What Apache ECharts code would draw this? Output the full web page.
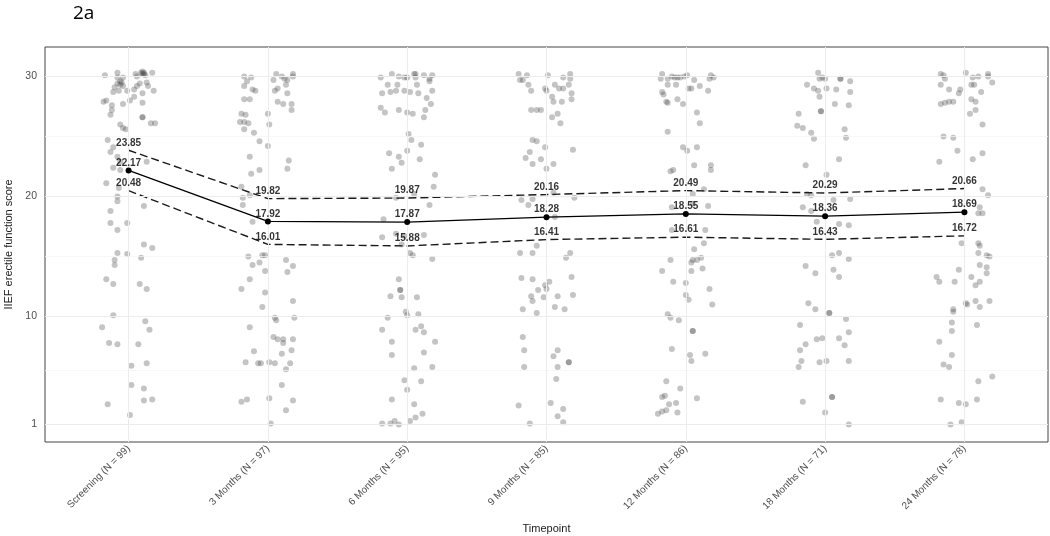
<!DOCTYPE html>
<html>
<head>
<meta charset="utf-8">
<script src="https://cdn.jsdelivr.net/npm/echarts@6/dist/echarts.min.js"></script>
<style>html,body{margin:0;padding:0;background:#fff}#c{width:1050px;height:536px}</style>
</head>
<body>
<div id="c"></div>
<script>
const categories = ["Screening (N = 99)","3 Months (N = 97)","6 Months (N = 95)","9 Months (N = 85)","12 Months (N = 86)","18 Months (N = 71)","24 Months (N = 78)"];
const yTicks = [1, 10, 20, 30];
const yMinorTicks = [5.5, 15, 25];
const meanValues = [22.17, 17.92, 17.87, 18.28, 18.55, 18.36, 18.69];
const upperValues = [23.85, 19.82, 19.87, 20.16, 20.49, 20.29, 20.66];
const lowerValues = [20.48, 16.01, 15.88, 16.41, 16.61, 16.43, 16.72];

// jittered individual scores: [horizontal jitter offset, score]
const ptsScreening = [[-0.17,30.1],[-0.08,30.3],[-0.08,29.9],[-0.04,29.9],[-0.06,29.6],[0.05,30.2],[0.06,30.0],[0.10,30.2],[0.11,30.3],[0.12,30.1],[0.17,30.3],[0.09,30.3],[0.10,30.4],[0.11,30.2],[-0.05,29.5],
[-0.08,29.4],[-0.06,29.3],[-0.10,29.1],[-0.04,29.2],[-0.11,28.7],[-0.07,28.8],[-0.01,28.8],[0.04,28.9],[0.06,29.2],[0.08,29.4],[0.13,29.5],[0.14,29.2],[0.18,28.8],[0.10,28.6],
[-0.18,27.9],[-0.16,28.0],[-0.12,27.6],[-0.04,27.7],[0.01,28.0],[0.04,28.3],[0.10,27.8],[-0.12,27.2],[-0.13,26.8],[0.10,26.6],[0.10,26.6],[0.16,26.1],[0.19,26.1],[-0.06,26.0],[-0.04,25.7],[-0.02,25.6],
[-0.15,24.7],[-0.11,24.1],[-0.13,23.7],[-0.08,23.3],[-0.06,22.9],[0.13,22.9],[-0.11,22.4],[-0.06,22.2],[-0.16,21.1],[-0.07,20.7],[-0.08,20.0],[-0.08,19.6],[0.11,19.2],[-0.13,18.8],[-0.13,17.8],[-0.01,17.8],[-0.08,17.2],
[0.11,16.0],[0.17,15.7],[-0.08,15.3],[-0.01,15.2],[0.09,14.9],[-0.10,14.7],[-0.10,14.3],[-0.16,13.1],[-0.11,12.7],[0.08,12.7],[0.13,12.3],[-0.11,10.1],[-0.19,9.1],[0.12,9.6],[0.15,8.9],
[-0.14,7.8],[-0.08,7.7],[0.07,7.7],[0.13,6.1],[0.02,5.9],[0.02,4.3],[0.11,4.0],[0.11,3.0],[0.17,3.1],[-0.15,2.7],[0.01,1.8]];
const pts3m = [[-0.17,30.0],[-0.12,29.9],[-0.15,29.6],[-0.17,29.2],[-0.11,28.9],[-0.09,28.8],[0.06,30.2],[0.10,30.0],[0.04,29.7],[0.12,29.8],[0.14,29.7],[0.18,30.2],[0.18,30.0],[0.13,29.3],[0.07,29.0],[0.05,28.8],[0.14,28.6],
[-0.17,28.1],[-0.13,28.1],[0.07,27.9],[0.11,27.7],[0.17,27.7],[0.17,27.2],[-0.19,26.9],[-0.16,26.8],[-0.20,26.2],[-0.17,26.2],[-0.14,26.1],[-0.17,25.6],[0.00,26.9],[0.01,26.0],[-0.10,25.3],[-0.06,24.6],[0.00,24.2],
[-0.13,23.3],[0.15,23.0],[0.14,22.3],[-0.12,21.9],[-0.06,22.2],[-0.19,20.8],[-0.18,19.9],[-0.13,20.1],[-0.18,19.3],[-0.11,17.9],
[-0.14,15.0],[-0.02,15.1],[-0.04,15.1],[-0.11,14.3],[-0.06,14.5],[-0.02,13.8],[0.13,14.7],[0.18,14.2],[0.14,13.7],[-0.13,13.1],[-0.19,12.3],[-0.02,12.0],[-0.04,10.8],[0.18,11.3],
[0.05,9.9],[0.06,9.7],[0.19,9.9],[-0.13,9.1],[0.04,8.3],[0.07,8.1],[0.11,8.1],[0.11,7.8],[0.18,8.1],[-0.10,7.1],[0.10,6.9],[0.17,7.2],[-0.16,6.2],[-0.07,6.1],[-0.05,6.1],[0.01,6.2],[0.05,6.1],[0.16,6.1],[0.13,5.6],
[0.10,4.3],[-0.19,2.9],[-0.15,3.1],[0.01,3.2],[0.18,3.0],[0.13,2.2],[0.02,1.1]];
const pts6m = [[-0.19,29.9],[-0.11,30.2],[-0.06,30.0],[-0.02,29.9],[0.00,29.9],[0.05,30.2],[0.06,30.2],[0.06,29.9],[0.12,30.1],[0.16,29.8],[0.18,30.1],[0.16,29.6],[-0.14,29.3],[-0.07,29.3],[0.07,29.3],
[-0.18,28.6],[-0.12,28.7],[-0.08,28.8],[-0.02,28.8],[0.02,28.7],[0.08,28.6],[0.18,28.8],[0.14,28.2],[0.17,27.7],[-0.19,27.4],[-0.16,27.0],[-0.06,27.2],[0.00,27.0],[0.04,26.9],[0.13,27.2],[0.12,26.6],
[0.01,25.2],[0.03,24.7],[0.10,24.3],[-0.13,23.6],[-0.06,23.3],[0.00,23.8],[-0.04,22.8],[0.09,23.1],[-0.11,22.3],[0.20,21.8],[0.19,20.8],[-0.08,19.9],[0.05,20.2],[0.16,19.3],[-0.17,18.1],
[-0.18,16.6],[-0.08,16.9],[-0.02,16.7],[0.12,16.8],[-0.04,16.0],[0.02,15.3],[0.04,15.1],[0.18,14.8],[-0.06,13.1],[-0.05,12.2],[-0.05,12.2],[-0.12,11.7],[-0.04,11.6],[0.07,11.6],
[-0.01,10.4],[0.00,10.1],[0.08,10.2],[-0.14,9.9],[-0.18,8.9],[0.06,8.9],[0.10,9.2],[0.12,8.7],[-0.11,7.9],[0.20,7.9],[-0.11,6.8],[0.12,7.0],[0.05,5.7],[0.18,5.8],
[-0.02,4.7],[0.10,4.6],[0.00,3.9],[-0.11,3.1],[0.05,2.7],[0.11,1.9],[0.06,1.6],[0.02,1.3],[-0.18,1.1],[-0.12,1.1],[-0.09,1.3],[-0.06,1.0]];
const pts9m = [[-0.20,30.2],[-0.14,30.1],[-0.19,29.7],[-0.17,29.7],[-0.13,29.3],[-0.11,28.8],[0.01,30.1],[0.12,29.9],[0.17,30.2],[0.17,29.8],[0.06,29.3],[0.09,29.0],[0.12,29.0],[0.16,29.3],[-0.01,29.0],[0.00,28.8],[0.18,28.6],
[0.04,28.3],[0.05,27.9],[0.11,27.9],[0.18,28.1],[-0.11,27.2],[-0.07,27.2],[-0.04,27.2],[0.08,26.9],[0.04,26.6],[0.10,26.1],
[-0.10,24.7],[-0.07,24.6],[-0.01,24.1],[0.19,23.9],[-0.12,23.7],[-0.15,23.2],[-0.04,23.1],[-0.10,22.7],[0.05,22.7],[0.00,22.3],[-0.18,19.7],[-0.13,19.3],[-0.10,19.8],[0.05,20.3],[0.20,19.9],[0.06,18.3],
[-0.07,15.9],[-0.19,15.3],[-0.10,15.3],[0.17,15.3],[0.14,14.9],[-0.18,13.2],[-0.10,13.1],[0.18,13.3],[0.02,12.9],[-0.01,12.6],[-0.06,12.2],[0.00,12.3],[-0.11,11.7],[-0.02,11.6],[0.08,11.7],[0.19,11.8],[-0.10,11.3],
[-0.17,10.6],[-0.07,10.3],[0.06,10.8],[0.13,10.6],[-0.17,8.3],[-0.16,7.2],[0.08,7.2],[0.05,6.7],[0.16,6.2],[0.16,6.2],[-0.16,5.8],[0.08,5.8],[0.07,4.8],
[-0.20,2.6],[0.03,2.8],[0.12,2.3],[0.08,1.7],[0.12,1.2],[-0.12,1.1]];
const pts12m = [[-0.17,30.2],[-0.18,29.8],[-0.13,29.8],[-0.10,30.0],[-0.08,29.9],[-0.06,29.9],[-0.04,29.9],[-0.01,30.0],[0.01,30.1],[0.06,29.7],[0.17,29.8],[0.18,30.1],[0.20,29.9],
[-0.13,29.3],[-0.07,29.3],[0.02,29.0],[0.04,29.0],[0.10,29.2],[0.16,28.8],[-0.17,28.7],[-0.16,28.5],[-0.14,27.9],[-0.13,27.8],[-0.06,28.1],[-0.02,27.7],[0.08,27.0],[0.10,26.1],[-0.13,25.4],
[-0.02,24.1],[0.01,23.8],[0.08,24.1],[-0.11,22.1],[-0.09,22.2],[0.06,22.6],[0.18,22.6],[0.18,22.2],[0.13,20.6],[0.05,20.2],[0.16,19.2],[-0.10,19.1],[0.05,19.4],
[-0.10,17.2],[0.14,17.2],[0.13,16.1],[0.06,15.6],[-0.11,14.7],[0.05,14.7],[0.04,14.5],[0.08,14.7],[0.11,14.9],[0.12,14.0],[-0.17,13.8],[0.04,13.8],[-0.09,12.9],[0.00,12.8],[0.17,12.3],[0.00,11.8],[0.02,11.4],[0.19,11.0],
[-0.13,10.2],[-0.11,9.9],[-0.05,9.7],[0.05,8.8],[0.05,8.8],[-0.10,7.3],[0.03,6.8],[0.04,6.3],[0.14,6.9],
[-0.14,4.6],[-0.04,4.0],[-0.17,3.3],[-0.15,3.4],[0.08,3.2],[-0.12,2.7],[-0.07,2.8],[-0.20,1.9],[-0.17,2.1],[-0.14,2.2],[-0.06,2.0]];
const pts18m = [[-0.05,30.3],[-0.04,29.8],[-0.02,29.9],[0.00,29.8],[0.11,29.8],[0.11,29.8],[0.18,29.6],[-0.13,29.3],[-0.08,29.0],[-0.05,28.8],[0.01,29.0],[0.08,28.9],[0.18,28.7],[-0.04,28.3],
[-0.19,26.9],[-0.03,27.1],[-0.03,27.1],[0.07,27.7],[0.17,27.6],[-0.20,25.9],[-0.16,25.7],[-0.10,25.3],[-0.08,24.8],[0.14,25.6],[0.15,24.9],
[0.10,23.1],[-0.14,22.6],[0.01,21.8],[-0.13,20.2],[-0.10,20.1],[0.06,19.7],[0.18,19.8],[-0.16,19.1],[-0.10,18.8],[-0.06,17.9],[0.10,17.7],[0.17,17.6],
[0.05,15.1],[0.10,15.3],[0.17,14.8],[-0.14,14.2],[-0.07,13.6],[0.06,13.9],[0.10,13.3],[-0.12,11.1],[-0.07,10.6],[0.03,10.3],[0.03,10.3],[0.15,9.8],[-0.18,9.3],[0.17,8.7],
[-0.06,8.1],[-0.02,8.2],[0.10,8.2],[0.14,7.6],[-0.14,7.7],[-0.18,7.2],[-0.17,6.3],[-0.19,5.8],[-0.04,6.2],[0.01,6.3],[0.17,6.3],
[-0.16,2.9],[0.05,3.3],[0.05,3.3],[0.00,2.0],[0.17,1.0]];
const pts24m = [[-0.17,30.2],[-0.15,30.1],[-0.14,29.8],[-0.17,29.3],[-0.11,28.9],[-0.04,28.6],[-0.03,28.9],[0.01,30.3],[0.06,29.9],[0.10,30.0],[0.07,29.3],[0.05,29.3],[0.12,28.7],[0.17,30.2],[0.17,30.0],[0.20,29.5],
[-0.17,27.7],[-0.14,27.8],[-0.11,27.9],[-0.08,27.9],[0.05,28.1],[0.08,27.9],[0.08,27.2],[0.04,26.9],[0.13,26.0],
[-0.15,25.0],[-0.08,24.9],[-0.05,23.8],[0.13,23.6],[0.06,23.1],[-0.18,22.9],[0.13,20.6],[0.17,20.1],[0.11,19.1],[0.10,18.6],[0.13,18.6],
[-0.02,16.1],[0.10,16.1],[0.11,15.9],[0.10,15.3],[0.16,15.1],[0.18,15.0],[0.11,14.3],[0.16,14.1],[0.16,13.6],[-0.04,13.9],[-0.20,13.3],[-0.18,12.9],[-0.07,12.9],[0.05,13.3],[0.08,12.6],[0.11,12.9],
[0.01,11.1],[0.02,11.0],[0.08,11.3],[0.11,10.8],[0.18,11.3],[-0.08,10.6],[-0.08,10.4],[-0.09,9.5],[0.09,9.3],[-0.09,8.8],[-0.18,7.9],[-0.09,6.8],[-0.15,6.0],[-0.11,5.8],
[0.20,5.0],[0.10,4.6],[-0.17,3.1],[-0.04,2.8],[0.01,2.7],[0.09,3.1],[-0.10,1.0],[-0.02,1.2]];

const pointGroups = [ptsScreening, pts3m, pts6m, pts9m, pts12m, pts18m, pts24m];

const FONT = '"Liberation Sans", Arial, sans-serif';
const chart = echarts.init(document.getElementById('c'), null, {renderer: 'canvas'});

const jitterData = [];
pointGroups.forEach((g, i) => g.forEach(p => jitterData.push([i + 1 + p[0], p[1]])));
const pos = arr => arr.map((v, i) => [i + 1, v]);

const gridLines = [];
yTicks.forEach(v => gridLines.push({yAxis: v, lineStyle: {color: '#ececec', width: 1, type: 'solid'}}));
yMinorTicks.forEach(v => gridLines.push({yAxis: v, lineStyle: {color: '#f3f3f3', width: 0.7, type: 'solid'}}));
categories.forEach((c, i) => gridLines.push({xAxis: i + 1, lineStyle: {color: '#ececec', width: 1, type: 'solid'}}));

function labelSeries(arr) {
  return {
    type: 'scatter', data: pos(arr), symbolSize: 1, z: 6, silent: true,
    itemStyle: {color: 'rgba(0,0,0,0)'},
    label: {show: true, position: 'top', distance: 2, fontFamily: FONT, fontSize: 10, fontWeight: 'bold', color: '#000',
      formatter: p => p.value[1].toFixed(2)}
  };
}

const option = {
  backgroundColor: '#fff',
  animation: false,
  title: {text: '2a', left: 68, top: -1, textStyle: {fontFamily: '"Open Sans", sans-serif', fontSize: 19, fontWeight: 'normal', color: '#000'}},
  grid: {left: 45, right: 2, top: 47, bottom: 94, show: true, borderColor: '#444', borderWidth: 1, backgroundColor: '#fff', containLabel: false, outerBoundsMode: 'none'},
  xAxis: {
    type: 'value', min: 0.4, max: 7.6,
    name: 'Timepoint', nameLocation: 'middle', nameGap: 81,
    nameTextStyle: {fontFamily: FONT, fontSize: 11, color: '#1a1a1a'},
    axisLine: {show: false}, axisTick: {show: false}, splitLine: {show: false},
    axisLabel: {customValues: [1,2,3,4,5,6,7], rotate: 45, margin: 5, fontFamily: FONT, fontSize: 10, color: '#4d4d4d',
      formatter: v => categories[Math.round(v) - 1]}
  },
  yAxis: {
    type: 'value', min: -0.45, max: 32.45,
    name: 'IIEF erectile function score', nameLocation: 'middle', nameGap: 28,
    nameTextStyle: {fontFamily: FONT, fontSize: 11, color: '#1a1a1a'},
    axisLine: {show: false}, axisTick: {show: false}, splitLine: {show: false},
    axisLabel: {customValues: yTicks, margin: 8, fontFamily: FONT, fontSize: 10.5, color: '#4d4d4d'}
  },
  series: [
    {type: 'scatter', data: [], silent: true, z: 1,
     markLine: {silent: true, symbol: ['none', 'none'], label: {show: false}, animation: false, data: gridLines}},
    {type: 'scatter', data: jitterData, symbolSize: 6, z: 2, silent: true,
     itemStyle: {color: 'rgba(70,70,70,0.4)'}},
    {type: 'line', data: pos(upperValues), z: 4, symbol: 'none', silent: true,
     lineStyle: {color: '#1a1a1a', width: 1.4, type: [8, 4]}},
    {type: 'line', data: pos(lowerValues), z: 4, symbol: 'none', silent: true,
     lineStyle: {color: '#1a1a1a', width: 1.4, type: [8, 4]}},
    {type: 'line', data: pos(meanValues), z: 5, symbol: 'circle', symbolSize: 6, silent: true,
     itemStyle: {color: '#000'}, lineStyle: {color: '#000', width: 1.3}},
    labelSeries(upperValues), labelSeries(meanValues), labelSeries(lowerValues)
  ]
};
chart.setOption(option);
</script>
</body>
</html>
